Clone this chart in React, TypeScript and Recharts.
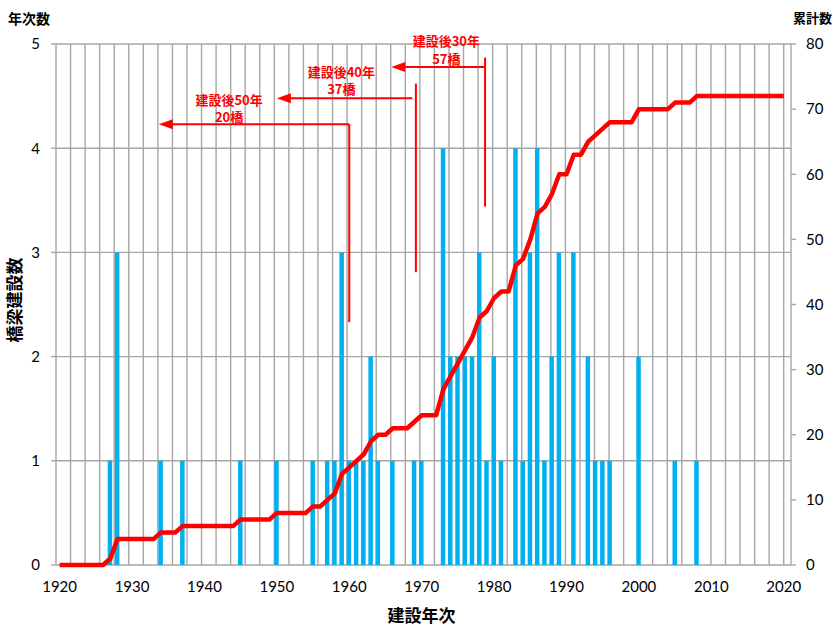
import React from "react"
import {
  ComposedChart,
  Bar,
  Line,
  XAxis,
  YAxis,
  CartesianGrid,
  ReferenceLine,
  ReferenceDot,
} from "recharts"

// 建設年ごとの橋梁数（建設のあった年だけ）
const builtYears = [
  1927, 1928, 1934, 1937, 1945, 1950, 1955, 1957, 1958, 1959, 1960, 1961, 1962, 1963, 1964, 1966,
  1969, 1970, 1973, 1974, 1975, 1976, 1977, 1978, 1979, 1980, 1981, 1983, 1984, 1985, 1986, 1987,
  1988, 1989, 1991, 1993, 1994, 1995, 1996, 2000, 2005, 2008,
]
const builtCounts = [
  1, 3, 1, 1, 1, 1, 1, 1, 1, 3, 1, 1, 1, 2, 1, 1,
  1, 1, 4, 2, 2, 2, 2, 3, 1, 2, 1, 4, 1, 3, 4, 1,
  2, 3, 3, 2, 1, 1, 1, 2, 1, 1,
]

const firstYear = 1920
const lastYear = 2020
const xTicks = [1920, 1930, 1940, 1950, 1960, 1970, 1980, 1990, 2000, 2010, 2020]
const leftTicks = [0, 1, 2, 3, 4, 5]
const rightTicks = [0, 10, 20, 30, 40, 50, 60, 70, 80]

// 注記（建設後○年）
const noteLabels = ["建設後30年", "建設後40年", "建設後50年"]
const noteCounts = ["57橋", "37橋", "20橋"]
const noteLineX = [1978.75, 1969.2, 1960]
const noteLineTop = [4.87, 4.62, 4.23]
const noteLineBottom = [3.44, 2.81, 2.33]
const arrowFromX = [1978.75, 1968.7, 1960]
const arrowTipX = [1965.8, 1950.0, 1933.7]
const arrowY = [4.78, 4.48, 4.23]
const noteTextX = [1973.4, 1958.9, 1943.4]
const noteTextY1 = [5.03, 4.74, 4.47]
const noteTextY2 = [4.86, 4.57, 4.3]

const data: { year: number; count: number; total: number }[] = []
{
  let sum = 0
  for (let y = firstYear; y <= lastYear; y++) {
    const i = builtYears.indexOf(y)
    const c = i >= 0 ? builtCounts[i] : 0
    sum += c
    data.push({ year: y, count: c, total: sum })
  }
}

const domainMin = firstYear - 0.5
const domainMax = lastYear + 0.5

const RED = "#ff0000"
const GRID = "#a6a6a6"
const tickFont = { fill: "#000", fontSize: 15, fontFamily: "Lato, 'Liberation Sans', sans-serif" }
const jpFont = "'Noto Sans CJK JP', sans-serif"

const arrowHead = (p: any) => (
  <polygon
    points={`${p.cx},${p.cy} ${p.cx + 14},${p.cy - 5} ${p.cx + 14},${p.cy + 5}`}
    fill={RED}
  />
)

const noteText = (label: string) => (p: any) => (
  <text
    x={p.cx}
    y={p.cy}
    textAnchor="middle"
    dominantBaseline="central"
    fill={RED}
    fontSize={13}
    fontWeight="bold"
    fontFamily={jpFont}
  >
    {label}
  </text>
)

export default function App() {
  const gridXs = ({ offset }: any) => {
    const out: number[] = []
    for (let v = domainMin + 2; v < domainMax; v += 2) {
      out.push(offset.left + ((v - domainMin) / (domainMax - domainMin)) * offset.width)
    }
    return out
  }

  return (
    <div style={{ position: "relative", width: 833, height: 627, background: "#fff" }}>
      <style>{"body{margin:0}"}</style>
      <ComposedChart
        width={833}
        height={627}
        data={data}
        margin={{ top: 44, right: 0, left: 0, bottom: 32 }}
      >
        <CartesianGrid
          yAxisId="left"
          stroke={GRID}
          strokeWidth={1.4}
          verticalCoordinatesGenerator={gridXs}
        />
        <XAxis
          dataKey="year"
          type="number"
          domain={[domainMin, domainMax]}
          ticks={xTicks}
          tickLine={false}
          axisLine={false}
          tick={tickFont}
          tickMargin={10}
          height={30}
          allowDecimals={false}
        />
        <YAxis
          yAxisId="left"
          domain={[0, 5]}
          ticks={leftTicks}
          width={56}
          tickSize={5}
          tickMargin={11}
          tickLine={{ stroke: GRID, strokeWidth: 1.4 }}
          axisLine={{ stroke: GRID, strokeWidth: 1.4 }}
          tick={tickFont}
        />
        <YAxis
          yAxisId="right"
          orientation="right"
          domain={[0, 80]}
          ticks={rightTicks}
          width={42}
          tickSize={5}
          tickMargin={10}
          tickLine={{ stroke: GRID, strokeWidth: 1.4 }}
          axisLine={{ stroke: GRID, strokeWidth: 1.4 }}
          tick={tickFont}
        />
        <Bar
          yAxisId="left"
          dataKey="count"
          fill="#00b0f0"
          barSize={4.5}
          isAnimationActive={false}
        />
        <Line
          yAxisId="right"
          dataKey="total"
          type="linear"
          stroke={RED}
          strokeWidth={4.5}
          strokeLinejoin="round"
          dot={false}
          activeDot={false}
          isAnimationActive={false}
        />
        {noteLabels.map((_, i) => (
          <ReferenceLine
            key={"v" + i}
            yAxisId="left"
            ifOverflow="visible"
            segment={[
              { x: noteLineX[i], y: noteLineTop[i] },
              { x: noteLineX[i], y: noteLineBottom[i] },
            ]}
            stroke={RED}
            strokeWidth={2}
          />
        ))}
        {noteLabels.map((_, i) => (
          <ReferenceLine
            key={"h" + i}
            yAxisId="left"
            ifOverflow="visible"
            segment={[
              { x: arrowFromX[i], y: arrowY[i] },
              { x: arrowTipX[i] + 0.8, y: arrowY[i] },
            ]}
            stroke={RED}
            strokeWidth={2}
          />
        ))}
        {noteLabels.map((_, i) => (
          <ReferenceDot
            key={"a" + i}
            yAxisId="left"
            x={arrowTipX[i]}
            y={arrowY[i]}
            ifOverflow="visible"
            shape={arrowHead}
          />
        ))}
        {noteLabels.map((label, i) => (
          <ReferenceDot
            key={"t1" + i}
            yAxisId="left"
            x={noteTextX[i]}
            y={noteTextY1[i]}
            ifOverflow="visible"
            shape={noteText(label)}
          />
        ))}
        {noteCounts.map((label, i) => (
          <ReferenceDot
            key={"t2" + i}
            yAxisId="left"
            x={noteTextX[i]}
            y={noteTextY2[i]}
            ifOverflow="visible"
            shape={noteText(label)}
          />
        ))}
      </ComposedChart>
      <div
        style={{
          position: "absolute",
          left: 8,
          top: 9,
          fontFamily: jpFont,
          fontWeight: "bold",
          fontSize: 14,
          lineHeight: "18px",
        }}
      >
        年次数
      </div>
      <div
        style={{
          position: "absolute",
          left: 793,
          top: 9,
          fontFamily: jpFont,
          fontWeight: "bold",
          fontSize: 13,
          lineHeight: "18px",
        }}
      >
        累計数
      </div>
      <div
        style={{
          position: "absolute",
          left: 0,
          width: 833,
          top: 603,
          textAlign: "center",
          paddingLeft: 10,
          boxSizing: "border-box",
          fontFamily: jpFont,
          fontWeight: "bold",
          fontSize: 17,
          lineHeight: "24px",
        }}
      >
        建設年次
      </div>
      <div
        style={{
          position: "absolute",
          left: 14,
          top: 300,
          transform: "translate(-50%, -50%) rotate(-90deg)",
          whiteSpace: "nowrap",
          fontFamily: jpFont,
          fontWeight: "bold",
          fontSize: 17,
          lineHeight: "20px",
        }}
      >
        橋梁建設数
      </div>
    </div>
  )
}
